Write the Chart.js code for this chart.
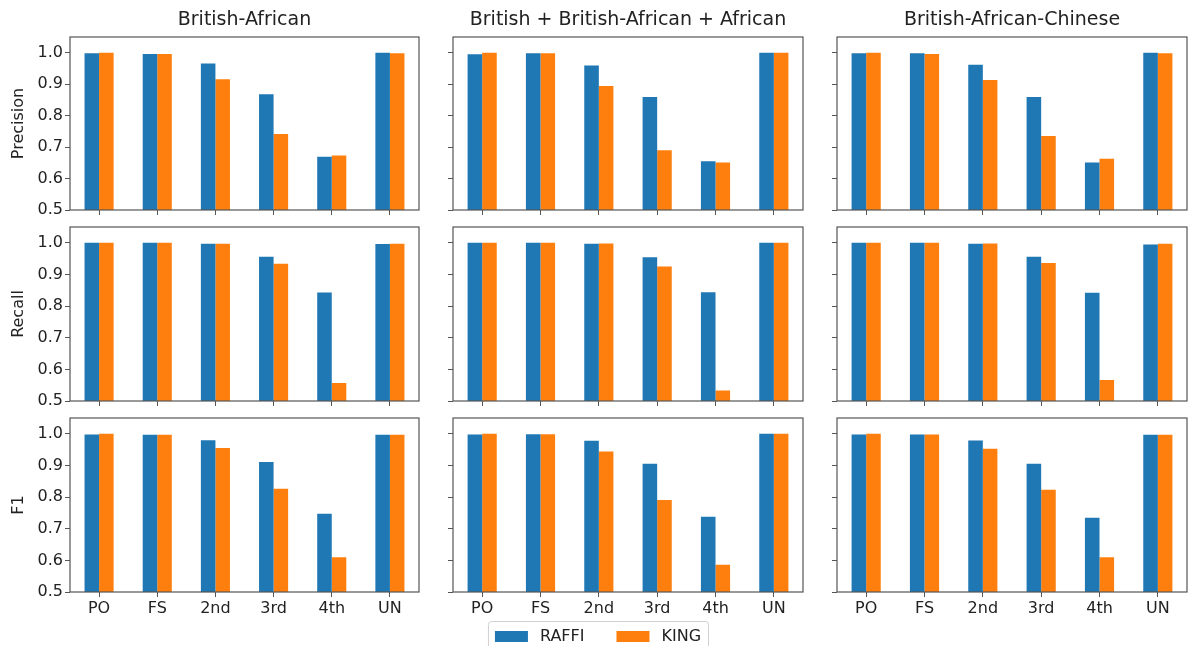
<!DOCTYPE html>
<html>
<head>
<meta charset="utf-8">
<script src="https://cdn.jsdelivr.net/npm/chart.js@4.4.0/dist/chart.umd.min.js"></script>
<style>
  html, body { margin: 0; padding: 0; background: #fff; }
  #figure { position: relative; width: 1191px; height: 646px; }
  #figure canvas { position: absolute; left: 0; top: 0; }
</style>
</head>
<body>
<div id="figure"></div>
<script>
// categories and panel labels
const categories = ['PO', 'FS', '2nd', '3rd', '4th', 'UN'];
const panelTitles = ['British-African', 'British + British-African + African', 'British-African-Chinese'];
const metricNames = ['Precision', 'Recall', 'F1'];
const seriesNames = ['RAFFI', 'KING'];
const yTicks = [0.5, 0.6, 0.7, 0.8, 0.9, 1.0];

// British-African
const baPrecisionRaffi = [0.998, 0.996, 0.966, 0.868, 0.669, 1.000];
const baPrecisionKing  = [1.000, 0.996, 0.916, 0.742, 0.673, 0.998];
const baRecallRaffi    = [1.000, 1.000, 0.997, 0.956, 0.843, 0.996];
const baRecallKing     = [1.000, 1.000, 0.997, 0.934, 0.557, 0.997];
const baF1Raffi        = [0.998, 0.997, 0.980, 0.911, 0.747, 0.997];
const baF1King         = [1.000, 0.997, 0.955, 0.826, 0.610, 0.997];

// British + British-African + African
const mixPrecisionRaffi = [0.995, 0.998, 0.959, 0.859, 0.655, 1.000];
const mixPrecisionKing  = [1.000, 0.998, 0.894, 0.690, 0.651, 1.000];
const mixRecallRaffi    = [1.000, 1.000, 0.997, 0.954, 0.844, 1.000];
const mixRecallKing     = [1.000, 1.000, 0.998, 0.925, 0.533, 1.000];
const mixF1Raffi        = [0.998, 0.999, 0.978, 0.905, 0.738, 1.000];
const mixF1King         = [1.000, 0.999, 0.944, 0.791, 0.586, 1.000];

// British-African-Chinese
const bacPrecisionRaffi = [0.998, 0.998, 0.962, 0.859, 0.651, 1.000];
const bacPrecisionKing  = [1.000, 0.996, 0.913, 0.735, 0.663, 0.998];
const bacRecallRaffi    = [1.000, 1.000, 0.997, 0.956, 0.842, 0.995];
const bacRecallKing     = [1.000, 1.000, 0.998, 0.936, 0.566, 0.997];
const bacF1Raffi        = [0.998, 0.998, 0.979, 0.905, 0.735, 0.997];
const bacF1King         = [1.000, 0.998, 0.953, 0.823, 0.610, 0.997];

// rows = metric, cols = panel
const grid = [
    [[baPrecisionRaffi, baPrecisionKing], [mixPrecisionRaffi, mixPrecisionKing], [bacPrecisionRaffi, bacPrecisionKing]],
    [[baRecallRaffi, baRecallKing], [mixRecallRaffi, mixRecallKing], [bacRecallRaffi, bacRecallKing]],
    [[baF1Raffi, baF1King], [mixF1Raffi, mixF1King], [bacF1Raffi, bacF1King]]
];

const colors = ['#1f77b4', '#ff7f0e'];
const FIG_W = 1191, FIG_H = 646;
const colEdges = [[70, 419], [453, 803], [837, 1187]];
const rowEdges = [[37, 210], [227, 401], [418, 592]];
const Y_AXIS_W = 62;
const FONT = '"DejaVu Sans", sans-serif';
const TEXT = '#222';
const SPINE = '#555';

Chart.defaults.font.family = FONT;
Chart.defaults.color = TEXT;

// matplotlib style box round the plot area
const framePlugin = {
    id: 'frame',
    afterDraw(chart) {
        const { ctx, chartArea: a } = chart;
        ctx.save();
        ctx.strokeStyle = SPINE;
        ctx.lineWidth = 1.2;
        ctx.strokeRect(a.left, a.top, a.right - a.left, a.bottom - a.top);
        ctx.restore();
    }
};

// shared legend under the figure
const legendPlugin = {
    id: 'figLegend',
    afterDraw(chart) {
        const ctx = chart.ctx;
        const ds = chart.data.datasets;
        const boxW = 33, boxH = 11, textGap = 12, colGap = 32, pad = 7;
        ctx.save();
        ctx.font = '16px ' + FONT;
        const widths = ds.map(d => boxW + textGap + ctx.measureText(d.label).width);
        const total = widths.reduce((a, b) => a + b, 0) + colGap * (ds.length - 1) + pad * 2;
        const left = 598 - total / 2, top = 621, cy = 636.5;
        ctx.fillStyle = 'rgba(255,255,255,0.8)';
        ctx.strokeStyle = '#d0d0d0';
        ctx.lineWidth = 1;
        ctx.beginPath();
        ctx.roundRect(left + 0.5, top + 0.5, total, 32, 3);
        ctx.fill();
        ctx.stroke();
        let x = left + pad;
        ctx.textBaseline = 'middle';
        ds.forEach((d, i) => {
            ctx.fillStyle = d.backgroundColor;
            ctx.fillRect(x, cy - boxH / 2, boxW, boxH);
            ctx.fillStyle = TEXT;
            ctx.fillText(d.label, x + boxW + textGap, cy);
            x += widths[i] + colGap;
        });
        ctx.restore();
    }
};

const figure = document.getElementById('figure');

grid.forEach((row, r) => {
    row.forEach((pair, c) => {
        const canvas = document.createElement('canvas');
        canvas.width = FIG_W;
        canvas.height = FIG_H;
        figure.appendChild(canvas);

        const [pl, pr] = colEdges[c];
        const [pt, pb] = rowEdges[r];
        const xAxisH = r === 2 ? 26 : 6;
        const topH = r === 0 ? pt : 0;

        new Chart(canvas, {
            type: 'bar',
            data: {
                labels: categories,
                datasets: pair.map((vals, i) => ({
                    label: seriesNames[i],
                    data: vals,
                    backgroundColor: colors[i],
                    borderWidth: 0,
                    categoryPercentage: 0.5,
                    barPercentage: 1.0
                }))
            },
            options: {
                responsive: false,
                animation: false,
                devicePixelRatio: 1,
                events: [],
                layout: {
                    padding: {
                        left: pl - Y_AXIS_W,
                        right: FIG_W - pr,
                        top: r === 0 ? 0 : pt,
                        bottom: FIG_H - pb - xAxisH
                    }
                },
                plugins: {
                    legend: { display: false },
                    tooltip: { enabled: false }
                },
                scales: {
                    x: {
                        type: 'category',
                        position: 'bottom',
                        offset: true,
                        grid: { offset: false, drawOnChartArea: false, drawTicks: true, tickLength: 5, color: SPINE },
                        border: { display: false },
                        ticks: { display: r === 2, padding: 2, maxRotation: 0, autoSkip: false, font: { size: 16 }, color: TEXT },
                        afterFit: s => { s.height = xAxisH; }
                    },
                    xTop: {
                        type: 'category',
                        position: 'top',
                        display: r === 0,
                        grid: { display: false },
                        border: { display: false },
                        ticks: { display: false },
                        title: { display: true, text: panelTitles[c], font: { size: 19 }, color: TEXT, padding: { top: 9, bottom: 0 } },
                        afterFit: s => { s.height = topH; }
                    },
                    y: {
                        min: 0.5,
                        max: 1.05,
                        grid: { drawOnChartArea: false, drawTicks: true, tickLength: 5, color: SPINE },
                        border: { display: false },
                        ticks: {
                            display: c === 0,
                            stepSize: 0.1,
                            padding: 2,
                            font: { size: 16 },
                            color: TEXT,
                            callback: v => Number(v).toFixed(1)
                        },
                        afterBuildTicks: s => { s.ticks = yTicks.map(v => ({ value: v })); },
                        title: { display: c === 0, text: metricNames[r], font: { size: 16 }, color: TEXT, padding: { top: 1, bottom: 0 } },
                        afterFit: s => { s.width = Y_AXIS_W; }
                    }
                }
            },
            plugins: (r === 2 && c === 1) ? [framePlugin, legendPlugin] : [framePlugin]
        });
    });
});
</script>
</body>
</html>
